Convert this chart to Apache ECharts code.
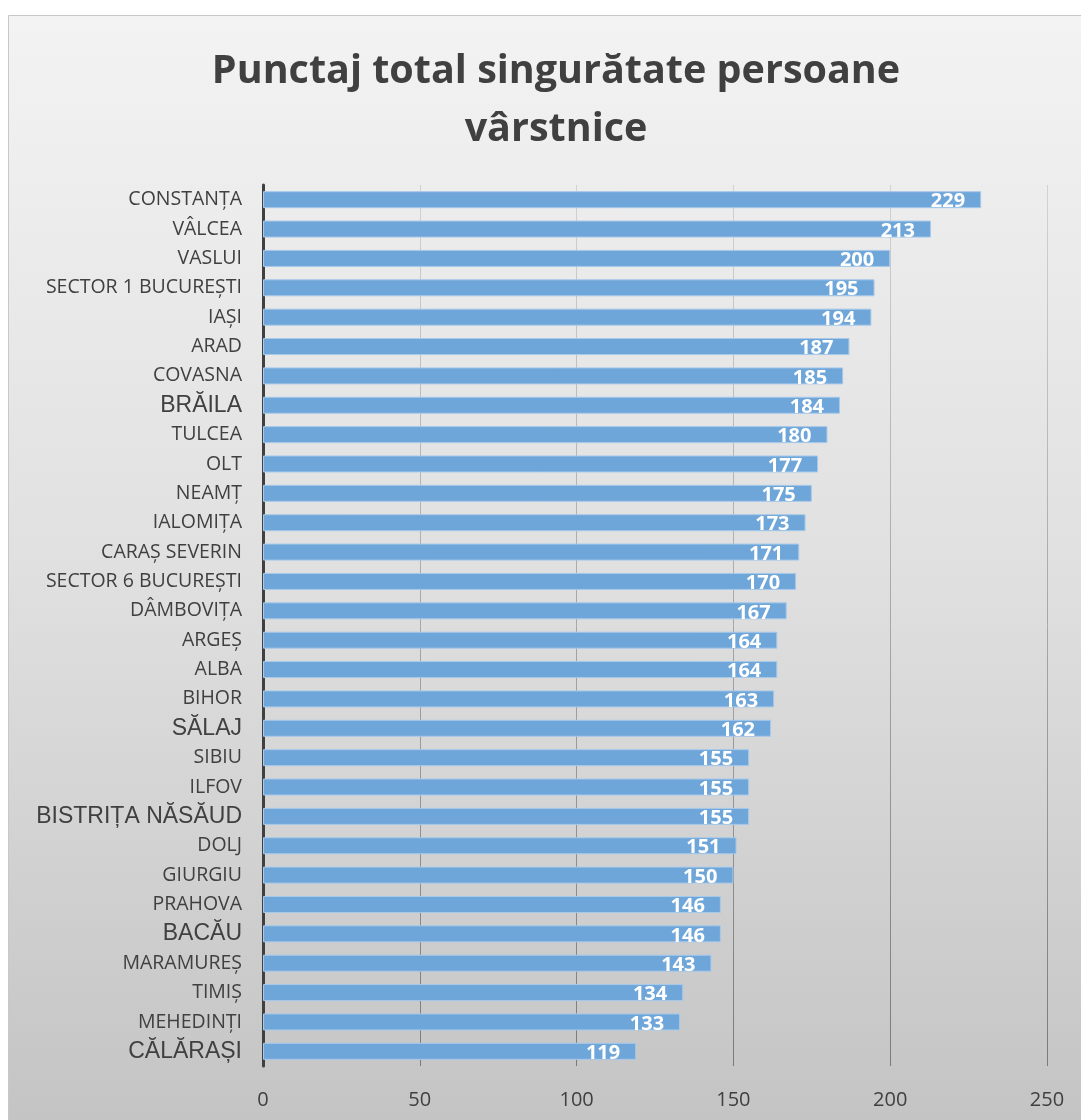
<!DOCTYPE html>
<html><head><meta charset="utf-8">
<script src="https://cdn.jsdelivr.net/npm/echarts@6/dist/echarts.min.js"></script>
<style>html,body{margin:0;padding:0;background:#fff}#c{width:1081px;height:1120px}</style>
</head><body><div id="c"></div>
<script>
const categories = ['CONSTANȚA','VÂLCEA','VASLUI','SECTOR 1 BUCUREȘTI','IAȘI','ARAD','COVASNA','BRĂILA','TULCEA','OLT','NEAMȚ','IALOMIȚA','CARAȘ SEVERIN','SECTOR 6 BUCUREȘTI','DÂMBOVIȚA','ARGEȘ','ALBA','BIHOR','SĂLAJ','SIBIU','ILFOV','BISTRIȚA NĂSĂUD','DOLJ','GIURGIU','PRAHOVA','BACĂU','MARAMUREȘ','TIMIȘ','MEHEDINȚI','CĂLĂRAȘI'];
const values = [229,213,200,195,194,187,185,184,180,177,175,173,171,170,167,164,164,163,162,155,155,155,151,150,146,146,143,134,133,119];
const largeLabels = ['BRĂILA','SĂLAJ','BISTRIȚA NĂSĂUD','BACĂU','CĂLĂRAȘI'];
const xTicks = [0,50,100,150,200,250];

const chart = echarts.init(document.getElementById('c'), null, {renderer:'canvas'});
chart.setOption({
  backgroundColor:'#ffffff',
  animation:false,
  graphic:[{
    type:'rect', left:8, top:15, z:-10,
    shape:{width:1073, height:1105},
    style:{
      fill:new echarts.graphic.LinearGradient(0,0,0,1,[
        {offset:0,color:'#f3f3f3'},{offset:0.5,color:'#e0e0e0'},{offset:1,color:'#c4c4c4'}]),
      stroke:'#c8c8c8', lineWidth:1
    }
  }],
  title:{
    text:'Punctaj total singurătate persoane\nvârstnice',
    left:551, textAlign:'center', top:38,
    textStyle:{fontFamily:'Open Sans', fontWeight:'bold', fontSize:39.5, color:'#404040', lineHeight:58}
  },
  grid:{left:263, top:185, width:784, height:881, containLabel:false},
  xAxis:{
    type:'value', min:xTicks[0], max:xTicks[xTicks.length-1], interval:50,
    axisLine:{show:false}, axisTick:{show:false},
    axisLabel:{margin:24, fontFamily:'Open Sans', fontSize:20, color:'#404040'},
    splitLine:{show:true, lineStyle:{width:1, color:new echarts.graphic.LinearGradient(0,0,0,1,[
      {offset:0,color:'#d2d2d2'},{offset:1,color:'#7a7a7a'}])}}
  },
  yAxis:{
    type:'category', data:categories, inverse:true,
    axisLine:{show:true, lineStyle:{color:'#404040', width:3}},
    axisTick:{show:false},
    axisLabel:{
      margin:21, color:'#404040',
      formatter:function(v){ return largeLabels.indexOf(v)>=0 ? '{b|'+v+'}' : '{a|'+v+'}'; },
      rich:{
        a:{fontFamily:'Open Sans', fontSize:19.5, color:'#404040'},
        b:{fontFamily:'Liberation Sans', fontSize:23, color:'#404040'}
      }
    }
  },
  series:[{
    type:'bar', data:values, barWidth:17,
    itemStyle:{color:'#6fa6d9', borderColor:'#a7c9ea', borderWidth:1},
    label:{show:true, position:'insideRight', distance:16, offset:[0,2], color:'#ffffff',
      fontFamily:'Open Sans', fontWeight:'bold', fontSize:20}
  }]
});
</script></body></html>
